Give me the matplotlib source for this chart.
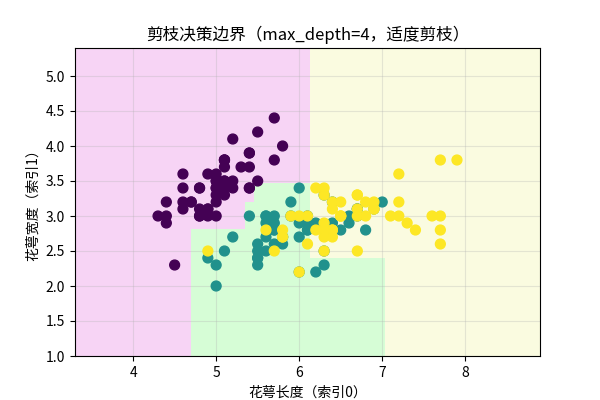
import numpy as np
import matplotlib
matplotlib.use("Agg")
import matplotlib.pyplot as plt
from matplotlib.colors import ListedColormap

plt.rcParams['font.family'] = ['Noto Sans CJK SC', 'DejaVu Sans']
plt.rcParams['axes.unicode_minus'] = False

setosa = [(5.1,3.5),(4.9,3.0),(4.7,3.2),(4.6,3.1),(5.0,3.6),(5.4,3.9),(4.6,3.4),(5.0,3.4),(4.4,2.9),(4.9,3.1),
(5.4,3.7),(4.8,3.4),(4.8,3.0),(4.3,3.0),(5.8,4.0),(5.7,4.4),(5.4,3.9),(5.1,3.5),(5.7,3.8),(5.1,3.8),
(5.4,3.4),(5.1,3.7),(4.6,3.6),(5.1,3.3),(4.8,3.4),(5.0,3.0),(5.0,3.4),(5.2,3.5),(5.2,3.4),(4.7,3.2),
(4.8,3.1),(5.4,3.4),(5.2,4.1),(5.5,4.2),(4.9,3.1),(5.0,3.2),(5.5,3.5),(4.9,3.6),(4.4,3.0),(5.1,3.4),
(5.0,3.5),(4.5,2.3),(4.4,3.2),(5.0,3.5),(5.1,3.8),(4.8,3.0),(5.1,3.8),(4.6,3.2),(5.3,3.7),(5.0,3.3)]
versicolor = [(7.0,3.2),(6.4,3.2),(6.9,3.1),(5.5,2.3),(6.5,2.8),(5.7,2.8),(6.3,3.3),(4.9,2.4),(6.6,2.9),(5.2,2.7),
(5.0,2.0),(5.9,3.0),(6.0,2.2),(6.1,2.9),(5.6,2.9),(6.7,3.1),(5.6,3.0),(5.8,2.7),(6.2,2.2),(5.6,2.5),
(5.9,3.2),(6.1,2.8),(6.3,2.5),(6.1,2.8),(6.4,2.9),(6.6,3.0),(6.8,2.8),(6.7,3.0),(6.0,2.9),(5.7,2.6),
(5.5,2.4),(5.5,2.4),(5.8,2.7),(6.0,2.7),(5.4,3.0),(6.0,3.4),(6.7,3.1),(6.3,2.3),(5.6,3.0),(5.5,2.5),
(5.5,2.6),(6.1,3.0),(5.8,2.6),(5.0,2.3),(5.6,2.7),(5.7,3.0),(5.7,2.9),(6.2,2.9),(5.1,2.5),(5.7,2.8)]
virginica = [(6.3,3.3),(5.8,2.7),(7.1,3.0),(6.3,2.9),(6.5,3.0),(7.6,3.0),(4.9,2.5),(7.3,2.9),(6.7,2.5),(7.2,3.6),
(6.5,3.2),(6.4,2.7),(6.8,3.0),(5.7,2.5),(5.8,2.8),(6.4,3.2),(6.5,3.0),(7.7,3.8),(7.7,2.6),(6.0,2.2),
(6.9,3.2),(5.6,2.8),(7.7,2.8),(6.3,2.7),(6.7,3.3),(7.2,3.2),(6.2,2.8),(6.1,3.0),(6.4,2.8),(7.2,3.0),
(7.4,2.8),(7.9,3.8),(6.4,2.8),(6.3,2.8),(6.1,2.6),(7.7,3.0),(6.3,3.4),(6.4,3.1),(6.0,3.0),(6.9,3.1),
(6.7,3.1),(6.9,3.1),(5.8,2.7),(6.8,3.2),(6.7,3.3),(6.7,3.0),(6.3,2.5),(6.5,3.0),(6.2,3.4),(5.9,3.0)]

# split thresholds
x_left = 4.7
x_step1 = 5.35
x_step2 = 5.46
x_mid = 6.13
x_right = 7.04
y_low = 2.81
y_step1 = 3.2
y_top = 3.47
y_yel = 2.40

def predict(x, y):
    out = np.zeros_like(x, dtype=int)
    left = x < x_mid
    green_left = left & (x >= x_left) & (
        (y < y_low) | ((x >= x_step1) & (y < y_step1)) | ((x >= x_step2) & (y < y_top)))
    out[green_left] = 1
    right = ~left
    out[right] = 2
    out[right & (x < x_right) & (y < y_yel)] = 1
    return out

pts = setosa + versicolor + virginica
X = np.array(pts)
labels = np.array([0]*len(setosa) + [1]*len(versicolor) + [2]*len(virginica))

fig, ax = plt.subplots(figsize=(6, 4), dpi=100)
xx, yy = np.meshgrid(np.linspace(3.3, 8.9, 700), np.linspace(1.0, 5.4, 600))
zz = predict(xx, yy)
cmap = ListedColormap(['#f7d4f5', '#d6fdd6', '#fafbe0'])
ax.pcolormesh(xx, yy, zz, cmap=cmap, vmin=0, vmax=2, shading='auto')
ax.scatter(X[:, 0], X[:, 1], c=labels, cmap='viridis', s=50, zorder=3)
ax.grid(True, alpha=0.3)
ax.set_xlim(3.3, 8.9)
ax.set_ylim(1.0, 5.4)
ax.set_xticks([4, 5, 6, 7, 8])
ax.set_yticks(np.arange(1.0, 5.01, 0.5))
ax.set_yticklabels([f"{v:.1f}" for v in np.arange(1.0, 5.01, 0.5)])
ax.set_title('剪枝决策边界（max_depth=4，适度剪枝）')
ax.set_xlabel('花萼长度（索引0）')
ax.set_ylabel('花萼宽度（索引1）')
fig.savefig('out.png')
